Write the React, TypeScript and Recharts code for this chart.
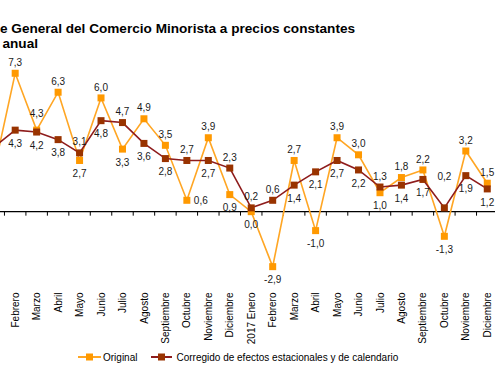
import React from 'react';
import { ComposedChart, Line, XAxis, YAxis, ReferenceLine, LabelList, Legend } from 'recharts';

const months = [
  '2016 Enero', 'Febrero', 'Marzo', 'Abril', 'Mayo', 'Junio', 'Julio', 'Agosto', 'Septiembre', 'Octubre', 'Noviembre', 'Diciembre',
  '2017 Enero', 'Febrero', 'Marzo', 'Abril', 'Mayo', 'Junio', 'Julio', 'Agosto', 'Septiembre', 'Octubre', 'Noviembre', 'Diciembre',
];
const original = [2.1, 7.3, 4.3, 6.3, 2.7, 6.0, 3.3, 4.9, 3.5, 0.6, 3.9, 0.9, 0.0, -2.9, 2.7, -1.0, 3.9, 3.0, 1.0, 1.8, 2.2, -1.3, 3.2, 1.5];
const corregido = [3.4, 4.3, 4.2, 3.8, 3.1, 4.8, 4.7, 3.6, 2.8, 2.7, 2.7, 2.3, 0.2, 0.6, 1.4, 2.1, 2.7, 2.2, 1.3, 1.4, 1.7, 0.2, 1.9, 1.2];

const titleLine1 = 'e General del Comercio Minorista a precios constantes';
const titleLine2 = 'anual';
const seriesNames = ['Original', 'Corregido de efectos estacionales y de calendario'];

// label placement codes: a = above, A = higher above, H = far above, b = below, r = right, - = hidden (cropped off the view)
const origLabelPos = ['-', 'a', 'A', 'a', 'b', 'a', 'b', 'a', 'a', 'r', 'a', 'b', 'b', 'b', 'a', 'b', 'a', 'a', 'b', 'a', 'a', 'b', 'a', 'a'];
const corrLabelPos = ['-', 'b', 'b', 'b', 'a', 'b', 'a', 'b', 'b', 'a', 'b', 'a', 'a', 'a', 'b', 'b', 'b', 'b', 'a', 'b', 'b', 'H', 'b', 'b'];

const data = months.map((m, i) => ({ key: `${i}|${m}`, original: original[i], corregido: corregido[i] }));

const ORANGE_LINE = '#FFA624';
const ORANGE_MARK = '#FF9900';
const DARK_LINE = '#8E1C1C';
const DARK_MARK = '#993300';
const FONT = 'Arial, "Liberation Sans", sans-serif';

const fmt = (v: number) => v.toFixed(1).replace('.', ',');

const makeLabel = (positions: string[]) => (props: any) => {
  const { index, value } = props;
  const x = props.x ?? props.viewBox?.x;
  const y = props.y ?? props.viewBox?.y;
  if (x == null || y == null) return null;
  const p = positions[index];
  if (p === '-') return null;
  let dx = 0;
  let dy = 0;
  let anchor: 'middle' | 'start' = 'middle';
  if (p === 'a') dy = -11;
  else if (p === 'A') dy = -17;
  else if (p === 'H') dy = -31;
  else if (p === 'b') dy = 13;
  else if (p === 'r') { dx = 7; anchor = 'start'; }
  return (
    <text key={`l-${index}`} x={x + dx} y={y + dy + 3.6} textAnchor={anchor} fontSize={10} fontFamily={FONT} fill="#1a1a1a">
      {fmt(Number(value))}
    </text>
  );
};

const makeDot = (fill: string, size: number) => (props: any) => {
  const { cx, cy, index } = props;
  if (cx == null || cy == null) return <g key={`d-${index}`} />;
  return <rect key={`d-${index}`} x={cx - size / 2} y={cy - size / 2} width={size} height={size} fill={fill} />;
};

const ZeroLine = (props: any) => {
  const { x1, x2, y1 } = props;
  const n = data.length;
  const step = (x2 - x1) / n;
  const ticks = [];
  for (let i = 0; i <= n; i++) {
    const tx = x1 + i * step;
    ticks.push(<line key={i} x1={tx} x2={tx} y1={y1} y2={y1 + 4} stroke="#000" strokeWidth={1} />);
  }
  return (
    <g>
      <line x1={x1} x2={x2} y1={y1} y2={y1} stroke="#000" strokeWidth={1.2} />
      {ticks}
    </g>
  );
};

const MonthTick = (props: any) => {
  const { x, y, payload } = props;
  const [idx, label] = String(payload.value).split('|');
  if (idx === '0') return <g />;
  return (
    <text transform={`translate(${x + 3.6},${y}) rotate(-90)`} textAnchor="end" fontSize={10} fontFamily={FONT} fill="#000">
      {label}
    </text>
  );
};

const LegendContent = () => (
  <div style={{ display: 'flex', alignItems: 'center', fontFamily: FONT, fontSize: 10, color: '#000', height: 14, whiteSpace: 'nowrap' }}>
    <svg width={23} height={14} style={{ display: 'block' }}>
      <line x1={0} x2={23} y1={7} y2={7} stroke={ORANGE_LINE} strokeWidth={2} />
      <rect x={8} y={3.5} width={7} height={7} fill={ORANGE_MARK} />
    </svg>
    <span style={{ marginLeft: 2 }}>{seriesNames[0]}</span>
    <svg width={21} height={14} style={{ display: 'block', marginLeft: 14 }}>
      <line x1={0} x2={21} y1={7} y2={7} stroke={DARK_LINE} strokeWidth={2} />
      <rect x={7} y={3.5} width={7} height={7} fill={DARK_MARK} />
    </svg>
    <span style={{ marginLeft: 4 }}>{seriesNames[1]}</span>
  </div>
);

export default function App() {
  return (
    <div style={{ position: 'fixed', left: 0, top: 0, width: 495, height: 378, overflow: 'hidden', background: '#fff' }}>
      <svg width={495} height={60} style={{ position: 'absolute', left: 0, top: 0 }}>
        <text x={0} y={33.3} fontSize={13.6} fontWeight="bold" fontFamily={FONT} fill="#000">{titleLine1}</text>
        <text x={2.5} y={48.3} fontSize={13.6} fontWeight="bold" fontFamily={FONT} fill="#000">{titleLine2}</text>
      </svg>
      <div style={{ position: 'absolute', left: -17.5, top: 0 }}>
        <ComposedChart width={515} height={378} data={data} margin={{ top: 60, right: 0, left: 0, bottom: 14 }}>
          <XAxis
            dataKey="key"
            type="category"
            scale="band"
            interval={0}
            tickLine={false}
            axisLine={false}
            tickSize={0}
            tickMargin={5}
            height={62.5}
            tick={MonthTick}
          />
          <YAxis hide domain={[-4, 8]} />
          <ReferenceLine y={0} shape={ZeroLine} />
          <Line
            type="linear"
            dataKey="original"
            stroke={ORANGE_LINE}
            strokeWidth={1.6}
            dot={makeDot(ORANGE_MARK, 7)}
            activeDot={false}
            isAnimationActive={false}
          >
            <LabelList dataKey="original" content={makeLabel(origLabelPos)} />
          </Line>
          <Line
            type="linear"
            dataKey="corregido"
            stroke={DARK_LINE}
            strokeWidth={1.6}
            dot={makeDot(DARK_MARK, 7)}
            activeDot={false}
            isAnimationActive={false}
          >
            <LabelList dataKey="corregido" content={makeLabel(corrLabelPos)} />
          </Line>
          <Legend verticalAlign="bottom" height={14} wrapperStyle={{ left: 95.5, width: 420 }} content={<LegendContent />} />
        </ComposedChart>
      </div>
    </div>
  );
}
